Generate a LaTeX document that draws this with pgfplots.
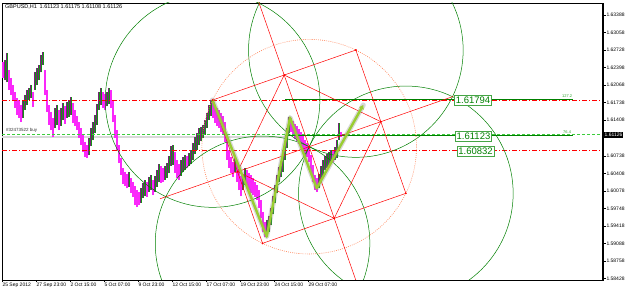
\documentclass[border=0pt]{standalone}
\usepackage{fontspec}
\setmainfont{Liberation Sans}
\usepackage{pgfplots}
\pgfplotsset{compat=1.18}
\usepackage{pgfplotstable}
\usetikzlibrary{arrows.meta}
\definecolor{candM}{RGB}{250,40,250}
\definecolor{candP}{RGB}{125,30,125}
\definecolor{candG}{RGB}{20,150,20}
\definecolor{dgreen}{RGB}{0,128,0}
\definecolor{lgreen}{RGB}{60,205,60}
\definecolor{coral}{RGB}{255,127,80}
\definecolor{ygreen}{RGB}{154,205,50}
\definecolor{boxgreen}{RGB}{70,165,70}
\newcommand{\tickfont}{\fontsize{5}{6}\selectfont}
% falling bars
\pgfplotstableread{
x lo hi
3 1.6220 1.6250
9 1.6198 1.6235
11 1.6188 1.6220
13 1.6179 1.6207
15 1.6164 1.6194
17 1.6151 1.6183
19 1.6145 1.6179
21 1.6137 1.6169
33 1.6166 1.6194
45 1.6188 1.6235
47 1.6156 1.6198
49 1.6132 1.6169
51 1.6122 1.6156
53 1.6109 1.6145
59 1.6122 1.6160
65 1.6134 1.6167
73 1.6135 1.6173
75 1.6130 1.6160
77 1.6122 1.6149
79 1.6107 1.6137
81 1.6094 1.6126
83 1.6081 1.6113
85 1.6071 1.6100
87 1.6070 1.6094
103 1.6164 1.6194
105 1.6160 1.6190
111 1.6164 1.6198
113 1.6137 1.6179
115 1.6107 1.6151
117 1.6085 1.6122
119 1.6060 1.6094
121 1.6038 1.6070
123 1.6021 1.6051
125 1.6017 1.6043
127 1.6013 1.6039
131 1.6004 1.6032
133 1.5996 1.6024
135 1.5981 1.6017
137 1.5977 1.6009
139 1.5981 1.6006
147 1.5996 1.6024
153 1.6000 1.6028
161 1.6023 1.6055
163 1.6024 1.6051
175 1.6041 1.6081
177 1.6032 1.6066
179 1.6028 1.6058
187 1.6051 1.6073
213 1.6145 1.6175
215 1.6135 1.6167
217 1.6130 1.6164
219 1.6126 1.6160
221 1.6119 1.6154
223 1.6115 1.6149
225 1.6100 1.6137
227 1.6066 1.6107
229 1.6051 1.6085
231 1.6041 1.6071
233 1.6034 1.6062
237 1.6024 1.6060
239 1.6009 1.6047
241 1.5998 1.6036
247 1.6013 1.6047
249 1.6009 1.6041
251 1.6004 1.6038
253 1.6000 1.6032
255 1.5996 1.6024
257 1.5990 1.6019
259 1.5975 1.6009
261 1.5957 1.5990
263 1.5930 1.5968
265 1.5921 1.5949
291 1.6119 1.6145
293 1.6111 1.6139
295 1.6105 1.6134
297 1.6102 1.6130
299 1.6096 1.6124
301 1.6090 1.6119
303 1.6085 1.6113
305 1.6077 1.6103
307 1.6071 1.6098
309 1.6062 1.6090
311 1.6043 1.6075
313 1.6024 1.6056
315 1.6009 1.6038
317 1.6006 1.6032
333 1.6062 1.6085
341 1.6109 1.6119
}\candlesDown
% rising bars
\pgfplotstableread{
x lo hi
5 1.6216 1.6254
7 1.6213 1.6267
23 1.6145 1.6179
25 1.6160 1.6188
27 1.6169 1.6198
29 1.6179 1.6201
31 1.6183 1.6207
35 1.6198 1.6231
37 1.6207 1.6239
39 1.6216 1.6245
41 1.6231 1.6263
43 1.6245 1.6269
55 1.6126 1.6164
57 1.6132 1.6169
61 1.6130 1.6164
63 1.6141 1.6173
67 1.6145 1.6175
69 1.6147 1.6179
71 1.6151 1.6184
89 1.6075 1.6107
91 1.6092 1.6126
93 1.6103 1.6137
95 1.6117 1.6151
97 1.6132 1.6171
99 1.6160 1.6194
101 1.6169 1.6201
107 1.6167 1.6194
109 1.6171 1.6201
129 1.6015 1.6043
141 1.5985 1.6013
143 1.5994 1.6023
145 1.5998 1.6028
149 1.6006 1.6034
151 1.6009 1.6038
155 1.6006 1.6036
157 1.6015 1.6047
159 1.6024 1.6058
165 1.6028 1.6055
167 1.6032 1.6060
169 1.6041 1.6073
171 1.6055 1.6092
173 1.6056 1.6094
181 1.6036 1.6066
183 1.6043 1.6071
185 1.6047 1.6075
189 1.6055 1.6079
191 1.6058 1.6085
193 1.6066 1.6098
195 1.6077 1.6109
197 1.6085 1.6117
199 1.6094 1.6126
201 1.6102 1.6128
203 1.6107 1.6132
205 1.6113 1.6141
207 1.6126 1.6154
209 1.6141 1.6169
211 1.6149 1.6179
235 1.6043 1.6070
243 1.6009 1.6038
245 1.6019 1.6051
267 1.5923 1.5953
269 1.5930 1.5960
271 1.5943 1.5975
273 1.5964 1.5998
275 1.5985 1.6019
277 1.6004 1.6038
279 1.6024 1.6053
281 1.6034 1.6062
283 1.6043 1.6075
285 1.6066 1.6100
287 1.6088 1.6126
289 1.6117 1.6147
319 1.6013 1.6039
321 1.6024 1.6055
323 1.6036 1.6066
325 1.6047 1.6073
327 1.6051 1.6077
329 1.6055 1.6081
331 1.6058 1.6085
335 1.6066 1.6090
337 1.6070 1.6103
339 1.6103 1.6135
}\candlesUp
\begin{document}
\begin{tikzpicture}
\useasboundingbox (0pt,0pt) rectangle (625pt,291pt);
\fill[white] (0pt,0pt) rectangle (625pt,291pt);
% ---------- price axis ----------
\begin{axis}[
  at={(2pt,11pt)}, anchor=south west, scale only axis,
  width=601pt, height=277pt,
  xmin=2, xmax=603, ymin=1.58399, ymax=1.63614,
  clip mode=individual,
  axis line style={black, line width=0.6pt},
  tick style={black, line width=0.5pt},
  tick align=outside, major tick length=2.5pt,
  xtick pos=bottom, ytick pos=right,
  xtick={2,36,70,104,138,172,206,240,274,308},
  xticklabels={25 Sep 2012, 27 Sep 23:00, 2 Oct 15:00, 5 Oct 07:00, 9 Oct 23:00, 12 Oct 15:00, 17 Oct 07:00, 19 Oct 23:00, 24 Oct 15:00, 29 Oct 07:00},
  xticklabel style={anchor=north west, font=\tickfont, inner sep=0.6pt, xshift=-0.3pt},
  ytick={1.63388,1.63058,1.62728,1.62398,1.62068,1.61738,1.61408,1.60738,1.60408,1.60078,1.59748,1.59418,1.59088,1.58758,1.58428},
  yticklabels={1.63388,1.63058,1.62728,1.62398,1.62068,1.61738,1.61408,1.60738,1.60408,1.60078,1.59748,1.59418,1.59088,1.58758,1.58428},
  yticklabel pos=right,
  yticklabel style={anchor=west, font=\tickfont, inner sep=0.8pt},
  scaled y ticks=false,
]
% order line
\addplot[gray!30, line width=1.6pt] coordinates {(2,1.6109) (287,1.6109)};
% candles
\addplot[draw=none, mark=none, error bars/.cd, y dir=plus, y explicit, error mark=none,
  error bar style={draw=candM, solid, line width=1.1pt}]
  table[x=x, y=lo, y error plus expr={\thisrow{hi}-\thisrow{lo}}]{\candlesDown};
\addplot[draw=none, mark=none, error bars/.cd, y dir=plus, y explicit, error mark=none,
  error bar style={draw=candP, solid, line width=1.1pt}]
  table[x=x, y=lo, y error plus expr={\thisrow{hi}-\thisrow{lo}}]{\candlesUp};
\addplot[draw=none, mark=none, error bars/.cd, y dir=plus, y explicit, error mark=none,
  error bar style={draw=candG, solid, line width=0.35pt}]
  table[x=x, y=lo, y error plus expr={\thisrow{hi}-\thisrow{lo}}]{\candlesUp};
% horizontal levels
\addplot[red, line width=0.6pt, dash pattern=on 5pt off 2pt on 1pt off 2pt] coordinates {(2,1.61788) (603,1.61788)};
\addplot[red, line width=0.6pt, dash pattern=on 5pt off 2pt on 1pt off 2pt] coordinates {(2,1.60832) (603,1.60832)};
\addplot[lgreen, line width=0.7pt, dash pattern=on 3pt off 2pt] coordinates {(2,1.6115) (603,1.6115)};
\addplot[dgreen, line width=0.8pt] coordinates {(285,1.61794) (573,1.61794)};
\addplot[dgreen, line width=0.8pt] coordinates {(285,1.61123) (573,1.61123)};
\draw[black, line width=1.3pt] (rel axis cs:1,0) -- (rel axis cs:1,1);
\node[fill=black, text=white, font=\tickfont, inner sep=0.9pt, anchor=west] at (axis cs:603.6,1.61126) {1.61126};
\end{axis}
% ---------- drawing objects (pixel frame) ----------
\begin{axis}[
  at={(2pt,11pt)}, anchor=south west, scale only axis,
  width=601pt, height=277pt,
  xmin=2, xmax=603, ymin=3, ymax=280, y dir=reverse,
  hide axis, clip mode=global,
]
% green circles at the square's corners
\draw[dgreen, line width=0.5pt] (axis cs:212.55,100.05) circle[radius=107.3];
\draw[dgreen, line width=0.5pt] (axis cs:355.85,50.05) circle[radius=107.3];
\draw[dgreen, line width=0.5pt] (axis cs:405.85,193.35) circle[radius=107.3];
\draw[dgreen, line width=0.5pt] (axis cs:262.55,243.35) circle[radius=107.3];
\draw[coral, line width=0.6pt, dash pattern=on 0.8pt off 1.3pt] (axis cs:309.2,146.7) circle[radius=107.3];
% red square, inner diamond, cross lines
\addplot[red, line width=0.5pt] coordinates {(212.55,100.05) (355.85,50.05) (405.85,193.35) (262.55,243.35) (212.55,100.05)};
\addplot[red, line width=0.5pt] coordinates {(284.2,75.05) (380.85,121.7) (334.2,218.35) (237.55,171.7) (284.2,75.05)};
\addplot[red, line width=0.5pt] coordinates {(258.0,0) (356.8,283)};
\addplot[red, line width=0.5pt] coordinates {(160,198.8) (453,96.5)};
\addplot[only marks, mark=*, mark size=0.7pt, red] coordinates {(212.55,100.05) (355.85,50.05) (405.85,193.35) (262.55,243.35) (284.2,75.05) (380.85,121.7) (334.2,218.35) (237.55,171.7) (309.2,146.7)};
% zigzag
\addplot[gray, opacity=0.3, line width=5pt, line join=round, line cap=round] coordinates {(212.5,100) (266.7,236.7) (290,117.5) (316.7,188.3) (363.3,105)};
\addplot[ygreen, line width=2.4pt, line join=round, -{Triangle[length=4pt,width=5pt]}] coordinates {(212.5,100) (266.7,236.7) (290,117.5) (316.7,188.3) (363.3,105)};
% texts
\node[anchor=west, font=\fontsize{5.5}{6}\selectfont, inner sep=0pt] at (axis cs:5,6.8) {GBPUSD,H1\enspace 1.61123 1.61175 1.61108 1.61126};
\node[anchor=west, font=\fontsize{4.5}{5}\selectfont, text=black!80, inner sep=0pt] at (axis cs:6,130.5) {\#32473522 buy};
\node[anchor=west, font=\fontsize{4}{5}\selectfont, text=lgreen!80!black, inner sep=0pt] at (axis cs:562,96) {127.2};
\node[anchor=west, font=\fontsize{4}{5}\selectfont, text=lgreen!80!black, inner sep=0pt] at (axis cs:563,131.8) {76.4};
\node[draw=boxgreen, fill=white, text=dgreen, font=\fontsize{9.5}{10}\selectfont, inner xsep=1.3pt, inner ysep=1.8pt] at (axis cs:473,100) {1.61794};
\node[draw=boxgreen, fill=white, text=dgreen, font=\fontsize{9.5}{10}\selectfont, inner xsep=1.3pt, inner ysep=1.8pt] at (axis cs:473.5,136) {1.61123};
\node[draw=boxgreen, fill=white, text=dgreen, font=\fontsize{9.5}{10}\selectfont, inner xsep=1.3pt, inner ysep=1.8pt] at (axis cs:475.5,151.5) {1.60832};
\end{axis}
\end{tikzpicture}
\end{document}
